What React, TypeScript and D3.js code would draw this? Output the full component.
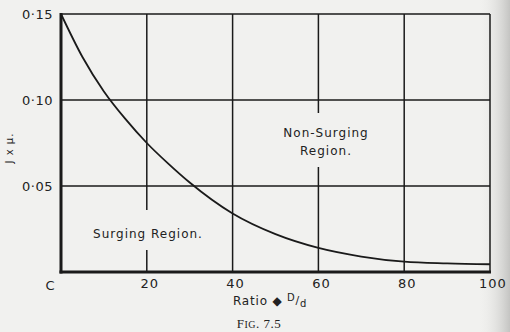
import React from "react";
import * as d3 from "d3";

const ratios = [0, 5, 10, 15, 20, 25, 30, 40, 50, 60, 70, 80, 90, 100];
const jmu = [0.15, 0.125, 0.105, 0.089, 0.075, 0.063, 0.052, 0.034, 0.022, 0.014, 0.009, 0.006, 0.005, 0.0045];
const xTicks = [20, 40, 60, 80, 100];
const yTicks = [0.05, 0.1, 0.15];
const yTickLabels = ["0·05", "0·10", "0·15"];

export default function App() {
  const W = 510, H = 332;
  const x = d3.scaleLinear().domain([0, 100]).range([61, 490]);
  const y = d3.scaleLinear().domain([0, 0.15]).range([272, 14]);
  const line = d3.line<number>().x((_, i) => x(ratios[i])).y((d) => y(d)).curve(d3.curveMonotoneX);
  const font = "'DejaVu Sans', sans-serif";
  const ink = "#1a1a1a";
  return (
    <svg width={W} height={H} style={{ position: "absolute", left: 0, top: 0, background: "#efefed" }}>
      <defs>
        <linearGradient id="edge" x1="0" x2="1">
          <stop offset="0" stopColor="#efefed" stopOpacity="0" />
          <stop offset="1" stopColor="#c4c4c2" />
        </linearGradient>
      </defs>
      <rect x={0} y={0} width={W} height={H} fill="#f1f1ef" />
      <rect x={478} y={0} width={32} height={H} fill="url(#edge)" />
      {yTicks.map((t) => (
        <line key={"h" + t} x1={x(0)} x2={x(100)} y1={y(t)} y2={y(t)} stroke={ink} strokeWidth={1.5} />
      ))}
      {xTicks.map((t) => {
        const gaps: [number, number][] =
          t === 20 ? [[y(0.15), 210], [250, y(0)]] : t === 60 ? [[y(0.15), 113], [167, y(0)]] : [[y(0.15), y(0)]];
        return gaps.map((g, i) => (
          <line key={"v" + t + i} x1={x(t)} x2={x(t)} y1={g[0]} y2={g[1]} stroke={ink} strokeWidth={1.5} />
        ));
      })}
      <line x1={x(0)} x2={x(0)} y1={y(0.15) - 1} y2={y(0) + 1.5} stroke={ink} strokeWidth={3} />
      <line x1={x(0) - 1.5} x2={x(100) + 1} y1={y(0)} y2={y(0)} stroke={ink} strokeWidth={3} />
      <path d={line(jmu) || ""} fill="none" stroke={ink} strokeWidth={1.8} />
      {yTicks.map((t, i) => (
        <text key={"yl" + t} x={x(0) - 8} y={y(t) + 5} textAnchor="end" fontFamily={font} fontSize={13} letterSpacing={0.5} fill="#222">
          {yTickLabels[i]}
        </text>
      ))}
      <text x={x(0) - 11} y={290} textAnchor="middle" fontFamily={font} fontSize={13} fill="#222">C</text>
      {xTicks.map((t) => (
        <text key={"xl" + t} x={x(t) + 3} y={288} textAnchor="middle" fontFamily={font} fontSize={13} letterSpacing={1} fill="#222">
          {t}
        </text>
      ))}
      <text transform={`translate(13,148) rotate(-90)`} textAnchor="middle" fontFamily={font} fontSize={10} letterSpacing={1} fill="#222">
        J x μ.
      </text>
      <text x={233} y={305} fontFamily={font} fontSize={12} letterSpacing={0.8} fill="#222">
        Ratio ◆ <tspan dy={-4} fontSize={10}>D</tspan><tspan dy={3} fontSize={11}>/</tspan><tspan dy={3} fontSize={10}>d</tspan>
      </text>
      <text x={259} y={328} textAnchor="middle" fontFamily="'Liberation Serif', serif" fontSize={13} letterSpacing={0.5} fill="#222">
        F<tspan fontSize={10}>IG</tspan>. 7.5
      </text>
      <text x={148} y={238} textAnchor="middle" fontFamily={font} fontSize={12} letterSpacing={1} fill="#222">
        Surging Region.
      </text>
      <text x={326} y={137} textAnchor="middle" fontFamily={font} fontSize={12} letterSpacing={1} fill="#222">
        Non-Surging
      </text>
      <text x={326} y={155} textAnchor="middle" fontFamily={font} fontSize={12} letterSpacing={1} fill="#222">
        Region.
      </text>
    </svg>
  );
}
